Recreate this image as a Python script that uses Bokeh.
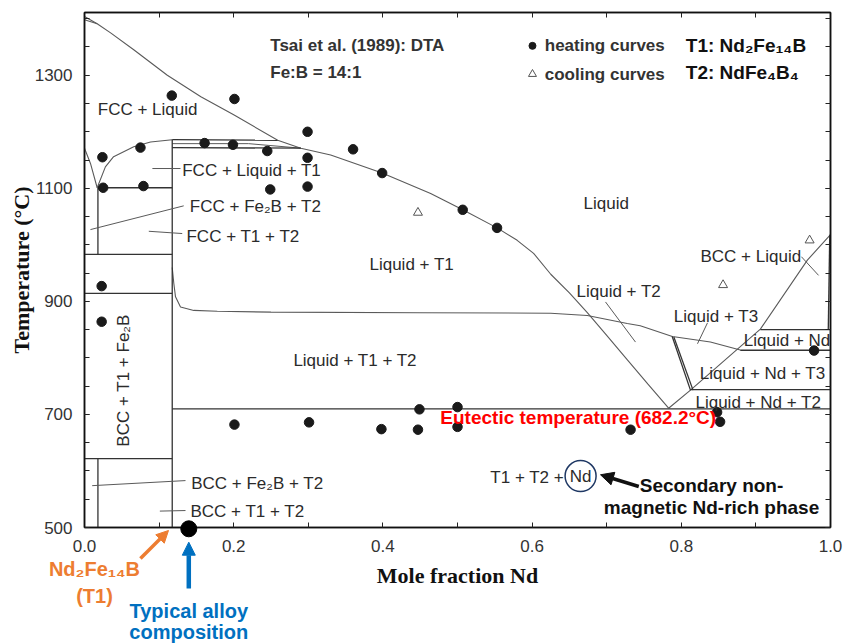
import numpy as np
from bokeh.plotting import figure
from bokeh.layouts import column
from bokeh.models import (ColumnDataSource, FixedTicker, PrintfTickFormatter, LinearAxis,
                          Arrow, NormalHead, CustomLabelingPolicy)
from bokeh.core.properties import value
from bokeh.embed import file_html
from bokeh.resources import INLINE

# ---------------- data: Nd-Fe-B isopleth at Fe:B = 14:1 ----------------
# DTA heating-curve points (mole fraction Nd, temperature in degC)
heat_x = [0.024, 0.075, 0.117, 0.161, 0.199, 0.201, 0.245, 0.299, 0.299, 0.299,
          0.249, 0.025, 0.079, 0.360, 0.399, 0.507, 0.553, 0.023, 0.023, 0.201,
          0.301, 0.398, 0.447, 0.449, 0.500, 0.500, 0.732, 0.848, 0.852, 0.978]
heat_T = [1155, 1172, 1264, 1180, 1177, 1258, 1166, 1200, 1154, 1103,
          1098, 1101, 1104, 1169, 1127, 1062, 1030, 927, 864, 682,
          686, 674, 673, 709, 713, 678, 673, 704, 687, 813]
# DTA cooling-curve points
cool_x = [0.447, 0.856, 0.972]
cool_T = [1057, 929, 1008]

# phase boundaries
liquidus_x = [0.0, 0.017, 0.035, 0.066, 0.111, 0.156, 0.200, 0.259, 0.290, 0.330,
              0.399, 0.464, 0.507, 0.553, 0.580, 0.602, 0.625, 0.650, 0.674, 0.700,
              0.728, 0.755, 0.783]
liquidus_T = [1404, 1391, 1375, 1345, 1300, 1262, 1230, 1185, 1171, 1159,
              1127, 1091, 1062, 1030, 1008, 985, 948, 915, 880, 840,
              796, 754, 711]
top_lens_x = [0.0, 0.017]
top_lens_T = [1398, 1391]
nd_liquidus_x = [0.783, 0.8123, 0.906, 0.969, 1.0]
nd_liquidus_T = [711, 743, 851, 973, 1018]
t3_liquidus_x = [0.1176, 0.1197, 0.122, 0.1287, 0.1465, 0.178, 0.25, 0.45, 0.625,
                 0.674, 0.7275, 0.745, 0.788, 0.839, 0.879]
t3_liquidus_T = [960, 932, 908, 890, 884, 882.5, 881, 880, 879,
                 875, 861, 857, 838, 828, 814]
fcc_left_x = [0.0, 0.008, 0.017]
fcc_left_T = [1171, 1144, 1101]
fcc_right_x = [0.017, 0.028, 0.039, 0.066, 0.0885, 0.1176]
fcc_right_T = [1101, 1138, 1156, 1173.5, 1182, 1186]

# compositions and invariant temperatures
x_T1 = 0.1176            # Nd2Fe14B
x_fe_side = 0.018
T_eutectic_line = 710

# straight segments: (x0, T0, x1, T1)
segments = [
    (x_fe_side, 1101, x_fe_side, 983),
    (x_fe_side, 622, x_fe_side, 500),
    (x_T1, 500, x_T1, 1186),
    (x_fe_side, 1101, x_T1, 1101),
    (0.0, 983, x_T1, 983),
    (0.0, 914, x_T1, 914),
    (0.0, 622, x_T1, 622),
    (x_T1, T_eutectic_line, 1.0, T_eutectic_line),
    (0.8123, 744, 1.0, 744),
    (0.879, 813.5, 1.0, 813.5),
    (0.906, 850, 1.0, 850),
    (0.997, 850, 0.999, 1018),
    (0.7878, 838, 0.8123, 743),
    (0.790, 837, 0.8157, 743),
    (x_T1, 1186, 0.259, 1185),
    (x_T1, 1172, 0.290, 1171),
]
three_phase_mid_x = [x_T1, 0.22, 0.29]
three_phase_mid_T = [1179, 1179, 1171]

# leader lines for phase-field labels
leaders = [
    (0.091, 1135, 0.1287, 1135),
    (0.008, 1027, 0.133, 1069),
    (0.0862, 1024, 0.131, 1020),
    (0.0103, 574, 0.1354, 583),
    (0.101, 529, 0.1354, 530),
    (0.6984, 899, 0.7386, 828),
    (0.8351, 862, 0.8217, 825),
    (0.961, 979, 0.984, 946),
]

x_major = [0.0, 0.2, 0.4, 0.6, 0.8, 1.0]
x_minor = [0.1, 0.3, 0.5, 0.7, 0.9]
T_major = [500, 700, 900, 1100, 1300]
T_minor = list(range(500, 1401, 50))

alloy_x = 0.1398
alloy_T = 497.7

# ---------------- main figure ----------------
W, H = 843, 644
ML, MR, MT, MB = 84, 13, 12, 117
x_lo, x_hi, T_lo, T_hi = 0.0, 1.0, 500, 1411

p = figure(width=W, height=H, x_range=(x_lo, x_hi), y_range=(T_lo, T_hi),
           output_backend="svg", toolbar_location=None, frame_align=False,
           min_border_left=ML, min_border_right=MR, min_border_top=MT, min_border_bottom=MB)
p.xgrid.visible = False
p.ygrid.visible = False
p.outline_line_color = "#111111"
p.outline_line_width = 1.5
p.background_fill_color = "white"
p.border_fill_color = "white"

SANS = "Liberation Sans"
SERIF = "Liberation Serif"

def style_axis(ax, labels=True):
    ax.axis_line_color = "#111111"
    ax.axis_line_width = 1.5
    ax.major_tick_in = 5
    ax.major_tick_out = 0
    ax.minor_tick_in = 5
    ax.minor_tick_out = 0
    ax.major_tick_line_color = "#222222"
    ax.minor_tick_line_color = "#222222"
    ax.major_tick_line_width = 1
    ax.minor_tick_line_width = 1
    if labels:
        ax.major_label_text_font = SANS
        ax.major_label_text_font_size = "17px"
        ax.major_label_text_color = "#333333"
        ax.major_label_standoff = 12
    else:
        # mirrored axis: ticks only, no labels and no reserved space
        ax.major_label_policy = CustomLabelingPolicy(code="return []")
        ax.major_label_text_font_size = "0px"
        ax.major_label_standoff = 0

x_ticker = FixedTicker(ticks=x_major, minor_ticks=x_minor)
T_ticker = FixedTicker(ticks=T_major, minor_ticks=T_minor)

p.xaxis.ticker = x_ticker
p.yaxis.ticker = T_ticker
p.xaxis.formatter = PrintfTickFormatter(format="%.1f")
p.yaxis.formatter = PrintfTickFormatter(format="%d")
style_axis(p.xaxis[0])
style_axis(p.yaxis[0])
p.xaxis.axis_label = "Mole fraction Nd"
p.yaxis.axis_label = "Temperature (\u00b0C)"
for ax in (p.xaxis[0], p.yaxis[0]):
    ax.axis_label_text_font = SERIF
    ax.axis_label_text_font_style = "bold"
    ax.axis_label_text_font_size = "22px"
    ax.axis_label_text_color = "#111111"
p.xaxis.axis_label_standoff = 8
p.yaxis.axis_label_standoff = -2

top_ax = LinearAxis(ticker=x_ticker)
right_ax = LinearAxis(ticker=T_ticker)
style_axis(top_ax, labels=False)
style_axis(right_ax, labels=False)
p.add_layout(top_ax, "above")
p.add_layout(right_ax, "right")

# ---------------- phase boundaries ----------------
curve_color = "#5a5a5a"
box_color = "#333333"
p.line(liquidus_x, liquidus_T, line_color=curve_color, line_width=1.1)
p.line(top_lens_x, top_lens_T, line_color=curve_color, line_width=1.1)
p.line(nd_liquidus_x, nd_liquidus_T, line_color=curve_color, line_width=1.1)
p.line(t3_liquidus_x, t3_liquidus_T, line_color=curve_color, line_width=1.1)
p.line(fcc_left_x, fcc_left_T, line_color=curve_color, line_width=1.1)
p.line(fcc_right_x, fcc_right_T, line_color=curve_color, line_width=1.1)
p.line(three_phase_mid_x, three_phase_mid_T, line_color=curve_color, line_width=1.0)
p.multi_line(xs=[[s[0], s[2]] for s in segments], ys=[[s[1], s[3]] for s in segments],
             line_color=box_color, line_width=1.3)
p.multi_line(xs=[[s[0], s[2]] for s in leaders], ys=[[s[1], s[3]] for s in leaders],
             line_color=curve_color, line_width=1.0)

# ---------------- DTA data ----------------
p.scatter(heat_x, heat_T, marker="circle", size=9.5, fill_color="#1a1a1a", line_color="#1a1a1a")
p.scatter(cool_x, cool_T, marker="triangle", size=9, fill_color="white",
          line_color="#555555", line_width=1)

# ---------------- phase-field labels ----------------
def add_text(fig, xs, ys, texts, size="17px", color="#2b2b2b", style="normal",
             align="left", angle=0.0, font=SANS):
    src = ColumnDataSource(dict(x=xs, y=ys, text=texts))
    fig.text(x="x", y="y", text="text", source=src, angle=angle,
             text_font=value(font), text_font_size=size, text_color=color,
             text_font_style=style, text_align=align, text_baseline="middle")

region_labels = [
    (0.0178, 1238.6, "FCC + Liquid"),
    (0.131, 1131, "FCC + Liquid + T1"),
    (0.1412, 1067, "FCC + Fe\u2082B + T2"),
    (0.1367, 1015.4, "FCC + T1 + T2"),
    (0.669, 1073.8, "Liquid"),
    (0.382, 965.8, "Liquid + T1"),
    (0.280, 795.8, "Liquid + T1 + T2"),
    (0.6595, 916.8, "Liquid + T2"),
    (0.790, 872.5, "Liquid + T3"),
    (0.8257, 980, "BCC + Liquid"),
    (0.8838, 831, "Liquid + Nd"),
    (0.8248, 772, "Liquid + Nd + T3"),
    (0.819, 722, "Liquid + Nd + T2"),
    (0.143, 578.5, "BCC + Fe\u2082B + T2"),
    (0.142, 528, "BCC + T1 + T2"),
    (0.544, 589, "T1 + T2 +"),
]
add_text(p, [r[0] for r in region_labels], [r[1] for r in region_labels],
         [r[2] for r in region_labels])
add_text(p, [0.665], [591], ["Nd"], align="center")
add_text(p, [0.0527], [760], ["BCC + T1 + Fe\u2082B"], align="center", angle=np.pi / 2)

# Nd-rich phase highlight
p.scatter([0.665], [591], marker="circle", size=31, fill_color=None,
          line_color="#1f3864", line_width=1.5)

add_text(p, [0.477], [694.3], ["Eutectic temperature (682.2\u00b0C)"], size="19px",
         color="#ff0000", style="bold")
add_text(p, [0.8405, 0.8405], [574.4, 536], ["Secondary non-", "magnetic Nd-rich phase"],
         size="19px", color="#111111", style="bold", align="center")

# header: source and legend
add_text(p, [0.249, 0.249], [1352, 1304], ["Tsai et al. (1989): DTA", "Fe:B = 14:1"],
         size="17px", color="#333333", style="bold")
p.scatter([0.6005], [1352], marker="circle", size=7, fill_color="#1a1a1a", line_color="#1a1a1a")
p.scatter([0.6005], [1302], marker="triangle", size=8, fill_color="white",
          line_color="#555555", line_width=1)
add_text(p, [0.617, 0.617], [1352, 1302], ["heating curves", "cooling curves"],
         size="17px", color="#333333", style="bold")
add_text(p, [0.806, 0.806], [1352, 1304], ["T1: Nd\u2082Fe\u2081\u2084B", "T2: NdFe\u2084B\u2084"],
         size="19px", color="#111111", style="bold")

# arrow to the Nd-rich phase
p.add_layout(Arrow(end=NormalHead(size=13, fill_color="#111111", line_color="#111111"),
                   x_start=0.743, y_start=572.6, x_end=0.6917, y_end=593.3,
                   line_color="#111111", line_width=3.5))

# ---------------- callouts under the axis ----------------
# A transparent overlay sharing the main plot's scales, laid over the bottom strip
# so the callouts can cross the x axis.
px_per_T = (H - MT - MB) / (T_hi - T_lo)
x_per_px = (x_hi - x_lo) / (W - ML - MR)
OV_H = 139
T_ov_hi = T_lo + (H - MB - (H - OV_H)) / px_per_T
T_ov_lo = T_ov_hi - OV_H / px_per_T

ov = figure(width=W, height=OV_H,
            x_range=(x_lo - ML * x_per_px, x_hi + MR * x_per_px), y_range=(T_ov_lo, T_ov_hi),
            output_backend="svg", toolbar_location=None, frame_align=False,
            x_axis_location=None, y_axis_location=None, min_border=0,
            margin=(-OV_H, 0, 0, 0))
ov.xgrid.visible = False
ov.ygrid.visible = False
ov.outline_line_color = None
ov.background_fill_alpha = 0
ov.border_fill_alpha = 0

orange = "#ed7d31"
blue = "#0070c0"
add_text(ov, [0.0134, 0.0134], [427.4, 379.6], ["Nd\u2082Fe\u2081\u2084B", "(T1)"],
         size="20px", color=orange, style="bold", align="center")
ov.add_layout(Arrow(end=NormalHead(size=12, fill_color=orange, line_color=orange),
                    x_start=0.075, y_start=445, x_end=0.1126, y_end=494.7,
                    line_color=orange, line_width=3.5))

add_text(ov, [alloy_x, alloy_x], [353, 314.6], ["Typical alloy", "composition"],
         size="20px", color=blue, style="bold", align="center")
ov.add_layout(Arrow(end=NormalHead(size=13, fill_color=blue, line_color=blue),
                    x_start=alloy_x, y_start=392, x_end=alloy_x, y_end=474,
                    line_color=blue, line_width=4.5))

# typical alloy composition, sitting on the axis
ov.scatter([alloy_x], [alloy_T], marker="circle", size=16, fill_color="black", line_color="black")

page = column(p, ov, spacing=0)
open("out.html", "w").write(file_html(page, INLINE))
